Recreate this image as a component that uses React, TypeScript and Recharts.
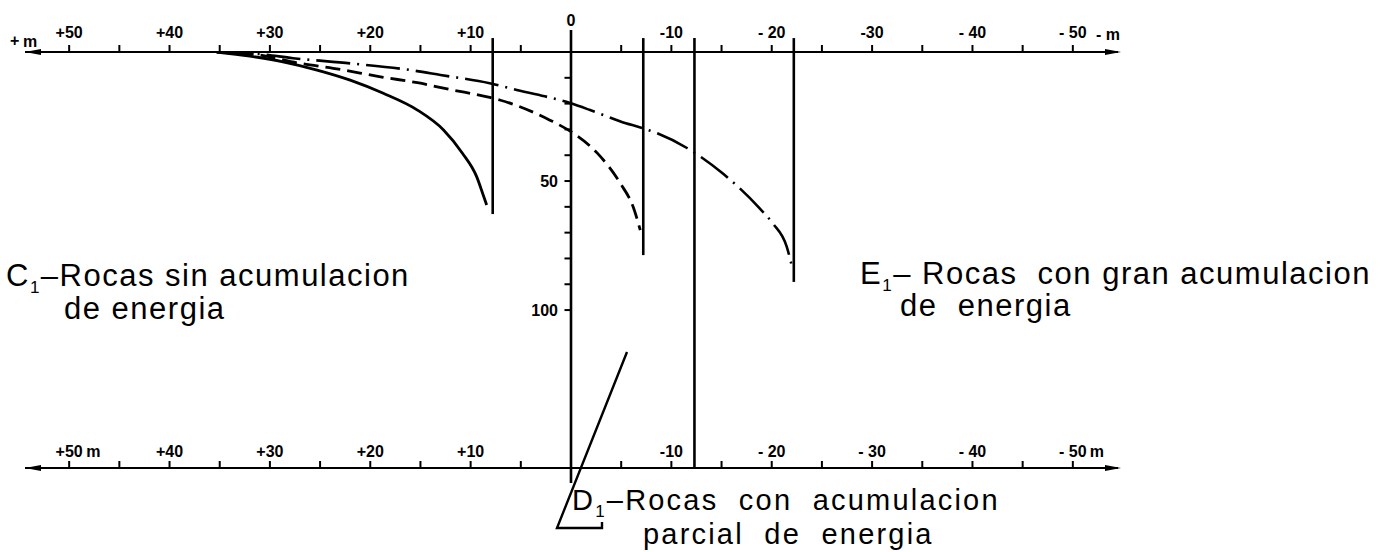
import React from 'react';
import { ComposedChart, Line, XAxis, YAxis, ReferenceLine, ReferenceDot } from 'recharts';

const WIDTH = 1385;
const HEIGHT = 552;

// Horizontal distance from the front (m, positive to the left) and subsidence (depth units)
const c1X = [35.3, 32.0, 28.7, 25.3, 22.0, 18.7, 15.3, 12.7, 10.8, 9.4, 8.8, 8.4];
const c1Depth = [0, 1.6, 3.8, 7.0, 10.9, 16.0, 22.5, 30.2, 39.3, 48.3, 54.8, 59.3];

const d1X = [35.3, 31.0, 27.0, 23.7, 18.7, 15.3, 12.1, 8.1, 7.1, 2.1, -0.2, -2.6, -4.9, -6.2, -6.9];
const d1Depth = [0, 1.2, 4.4, 6.3, 9.8, 11.9, 14.5, 17.6, 18.6, 26.4, 31.4, 39.1, 50.8, 60.1, 69.0];

const e1X = [35.3, 31.0, 27.7, 22.0, 16.0, 13.0, 8.1, 5.4, 0.1, -1.9, -5.0, -7.2, -8.6, -11.6, -15.1, -18.8, -20.1, -21.5, -22.1];
const e1Depth = [0, 0.8, 2.4, 4.4, 7.0, 8.9, 12.1, 14.7, 19.8, 22.5, 27.0, 29.6, 31.5, 37.3, 47.0, 60.6, 66.4, 75.5, 84.5];

// Vertical break lines: position and lower end
const faultX = [7.8, -7.2, -12.3, -22.2];
const faultBottom = [62.8, 78.7, 161.2, 89.1];
const faultTop = -5.4;

// Horizontal axes
const xTicks = [50, 45, 40, 35, 30, 25, 20, 15, 10, 5, -5, -10, -15, -20, -25, -30, -35, -40, -45, -50];
const labelValues = [50, 40, 30, 20, 10, -10, -20, -30, -40, -50];
const topLabels = ['+50', '+40', '+30', '+20', '+10', '-10', '- 20', '-30', '- 40', '- 50'];
const bottomLabels = ['+50', '+40', '+30', '+20', '+10', '-10', '- 20', '- 30', '- 40', '- 50'];

// Vertical (depth) axis
const depthTicks = [10, 20, 30, 40, 50, 60, 70, 80, 90, 100];
const depthLabelValues = [50, 100];
const depthAxisTop = -8.5;
const depthAxisBottom = 167;

const xDomain: [number, number] = [-54.5, 54.4];
const yDomain: [number, number] = [0, 161.2];

const zip = (xs: number[], ds: number[]) => xs.map((x, i) => ({ x, d: ds[i] }));
const c1Data = zip(c1X, c1Depth);
const d1Data = zip(d1X, d1Depth);
const e1Data = zip(e1X, e1Depth);

const tickFont: React.CSSProperties = {
  fontFamily: 'Liberation Sans, Arial, sans-serif',
  fontWeight: 700,
  fontSize: 16,
  fill: '#000',
};

const labelFont: React.CSSProperties = {
  fontFamily: 'Liberation Sans, Arial, sans-serif',
  fontSize: 31,
  letterSpacing: 1.5,
  fill: '#000',
  whiteSpace: 'pre',
};

const labelFontSmall: React.CSSProperties = { ...labelFont, fontSize: 29, letterSpacing: 2.2 };

const makeTick = (labels: string[], withUnit: boolean) => (props: any) => {
  const { x, y, payload } = props;
  const i = labelValues.indexOf(payload.value);
  if (i < 0) return <g />;
  const showUnit = withUnit && Math.abs(payload.value) === 50;
  return (
    <g>
      <text x={x} y={y} textAnchor="middle" style={tickFont}>
        {labels[i]}
      </text>
      {showUnit && (
        <text x={x + 17} y={y} textAnchor="start" style={tickFont}>
          m
        </text>
      )}
    </g>
  );
};

const TopTick = makeTick(topLabels, false);
const BottomTick = makeTick(bottomLabels, true);

const Sub = ({ children }: { children: React.ReactNode }) => (
  <tspan fontSize={17} dy={7}>
    {children}
  </tspan>
);

export default function App() {
  return (
    <div style={{ position: 'absolute', left: 0, top: 0, width: WIDTH, height: HEIGHT, background: '#fff' }}>
      <ComposedChart
        width={WIDTH}
        height={HEIGHT}
        margin={{ top: 12, right: 267, bottom: 84, left: 25 }}
      >
        <XAxis
          type="number"
          dataKey="x"
          orientation="top"
          height={40}
          domain={xDomain}
          allowDataOverflow
          reversed
          ticks={xTicks}
          interval={0}
          tickSize={7}
          tickMargin={7}
          axisLine={{ stroke: '#000', strokeWidth: 2.2 }}
          tickLine={{ stroke: '#000', strokeWidth: 2 }}
          tick={TopTick}
        />
        <XAxis
          xAxisId="b"
          type="number"
          dataKey="x"
          orientation="bottom"
          mirror
          height={30}
          domain={xDomain}
          allowDataOverflow
          reversed
          ticks={xTicks}
          interval={0}
          tickSize={7}
          tickMargin={4}
          axisLine={{ stroke: '#000', strokeWidth: 2.2 }}
          tickLine={{ stroke: '#000', strokeWidth: 2 }}
          tick={BottomTick}
        />
        <YAxis type="number" dataKey="d" hide reversed domain={yDomain} allowDataOverflow />

        {/* depth axis through the origin */}
        <ReferenceLine
          segment={[{ x: 0, y: depthAxisTop }, { x: 0, y: depthAxisBottom }]}
          stroke="#000"
          strokeWidth={2.6}
          ifOverflow="visible"
        />
        {depthTicks.map((d) => (
          <ReferenceLine
            key={`dt${d}`}
            segment={[{ x: 0, y: d }, { x: 0.65, y: d }]}
            stroke="#000"
            strokeWidth={2}
            ifOverflow="visible"
          />
        ))}
        {depthLabelValues.map((d) => (
          <ReferenceDot
            key={`dl${d}`}
            x={0}
            y={d}
            ifOverflow="visible"
            shape={(p: any) => (
              <text x={p.cx - 13} y={p.cy + 6} textAnchor="end" style={tickFont}>
                {d}
              </text>
            )}
          />
        ))}
        <ReferenceDot
          x={0}
          y={depthAxisTop}
          ifOverflow="visible"
          shape={(p: any) => (
            <text x={p.cx} y={p.cy - 4} textAnchor="middle" style={tickFont}>
              0
            </text>
          )}
        />

        {/* break lines */}
        {faultX.map((fx, i) => (
          <ReferenceLine
            key={`f${i}`}
            segment={[{ x: fx, y: faultTop }, { x: fx, y: faultBottom[i] }]}
            stroke="#000"
            strokeWidth={2.6}
            ifOverflow="visible"
          />
        ))}

        <Line
          data={c1Data}
          dataKey="d"
          type="monotone"
          stroke="#000"
          strokeWidth={2.8}
          dot={false}
          isAnimationActive={false}
        />
        <Line
          data={d1Data}
          dataKey="d"
          type="monotone"
          stroke="#000"
          strokeWidth={2.8}
          strokeDasharray="15 7"
          dot={false}
          isAnimationActive={false}
        />
        <Line
          data={e1Data}
          dataKey="d"
          type="monotone"
          stroke="#000"
          strokeWidth={2.6}
          strokeDasharray="34 7 2 7"
          dot={false}
          isAnimationActive={false}
        />
      </ComposedChart>

      <svg
        width={WIDTH}
        height={HEIGHT}
        style={{ position: 'absolute', left: 0, top: 0, pointerEvents: 'none' }}
      >
        {/* axis arrowheads */}
        <polygon points="25,52 41,49 41,55" fill="#000" />
        <polygon points="1121,52 1105,49 1105,55" fill="#000" />
        <polygon points="25,468 41,465 41,471" fill="#000" />
        <polygon points="1121,468 1105,465 1105,471" fill="#000" />

        {/* axis sign labels */}
        <text x={10} y={46} style={tickFont}>+</text>
        <text x={23} y={47} style={tickFont}>m</text>
        <text x={1096} y={40} style={tickFont}>- m</text>

        {/* rock type annotations */}
        <text x={6} y={286} style={labelFont}>
          C<Sub>1</Sub>
          <tspan dy={-7}>–Rocas sin acumulacion</tspan>
        </text>
        <text x={64} y={319} style={labelFont}>de energia</text>

        <text x={860} y={284} style={labelFont}>
          E<Sub>1</Sub>
          <tspan dy={-7}>– Rocas  con gran acumulacion</tspan>
        </text>
        <text x={900} y={316} style={labelFont}>de  energia</text>

        <text x={572} y={510} style={labelFontSmall}>
          D<Sub>1</Sub>
          <tspan dy={-7}>–Rocas  con  acumulacion</tspan>
        </text>
        <text x={643} y={544} style={labelFontSmall}>parcial  de  energia</text>

        <polyline
          points="627,352 557,528 602,528 602,522"
          fill="none"
          stroke="#000"
          strokeWidth={2.4}
        />
      </svg>
    </div>
  );
}
